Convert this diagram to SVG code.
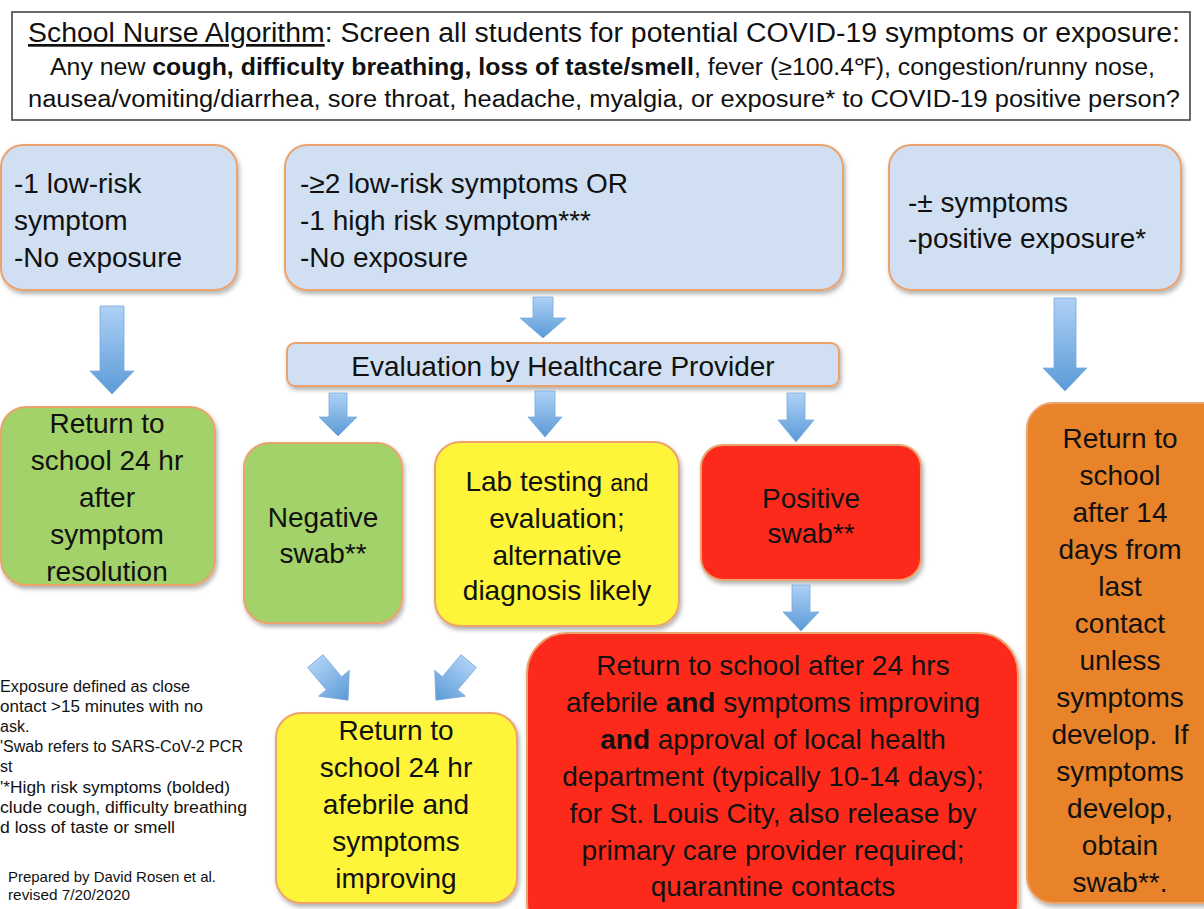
<svg xmlns="http://www.w3.org/2000/svg" width="1204" height="909" viewBox="0 0 1204 909">
<defs>
<linearGradient id="ag" x1="0" y1="0" x2="0" y2="1">
<stop offset="0" stop-color="#aed1f6"/>
<stop offset="1" stop-color="#5b9ad7"/>
</linearGradient>
<filter id="sh" x="-10%" y="-10%" width="125%" height="130%">
<feDropShadow dx="1.5" dy="3" stdDeviation="2" flood-color="#000" flood-opacity="0.3"/>
</filter>
</defs>
<style>
text{font-family:"Liberation Sans",Arial,sans-serif;fill:#111;}
.bx{stroke:#eba36e;stroke-width:2;filter:url(#sh);}
.blue{fill:#d0e0f2;}
.green{fill:#a3d26b;}
.yellow{fill:#fef53a;}
.red{fill:#fd2b1c;}
.orange{fill:#e8832a;}
.t28{font-size:28px;}
.c{text-anchor:middle;}
.fn{font-size:16px;}
.arr{fill:url(#ag);stroke:#79a9dc;stroke-width:0.8;}
</style>
<rect width="1204" height="909" fill="#fff"/>

<g id="header">
<rect x="12" y="12" width="1178" height="108" fill="#fff" stroke="#444" stroke-width="1.6"/>
<text x="28" y="42" font-size="27" textLength="1152" lengthAdjust="spacingAndGlyphs"><tspan text-decoration="underline">School Nurse Algorithm</tspan>: Screen all students for potential COVID-19 symptoms or exposure:</text>
<text x="50" y="75" font-size="23" textLength="1105" lengthAdjust="spacingAndGlyphs">Any new <tspan font-weight="bold">cough, difficulty breathing, loss of taste/smell</tspan>, fever (≥100.4℉), congestion/runny nose,</text>
<text x="28" y="107" font-size="23" textLength="1152" lengthAdjust="spacingAndGlyphs">nausea/vomiting/diarrhea, sore throat, headache, myalgia, or exposure* to COVID-19 positive person?</text>
</g>

<g id="low-risk">
<rect class="bx blue" x="1" y="145" width="236" height="145" rx="22"/>
<text class="t28" x="14" y="193">-1 low-risk</text>
<text class="t28" x="14" y="230">symptom</text>
<text class="t28" x="14" y="267">-No exposure</text>
</g>

<g id="high-risk">
<rect class="bx blue" x="285" y="145" width="558" height="145" rx="22"/>
<text class="t28" x="300" y="193">-≥2 low-risk symptoms OR</text>
<text class="t28" x="300" y="230">-1 high risk symptom***</text>
<text class="t28" x="300" y="267">-No exposure</text>
</g>

<g id="exposure">
<rect class="bx blue" x="889" y="145" width="292" height="145" rx="22"/>
<text class="t28" x="908" y="212">-± symptoms</text>
<text class="t28" x="908" y="248">-positive exposure*</text>
</g>

<g id="evaluation">
<rect class="bx blue" x="287" y="343" width="552" height="43" rx="8"/>
<text class="t28 c" x="563" y="376">Evaluation by Healthcare Provider</text>
</g>

<g id="return-resolution">
<rect class="bx green" x="1" y="407" width="214" height="178" rx="25"/>
<text class="t28 c" x="107" y="433">Return to</text>
<text class="t28 c" x="107" y="470">school 24 hr</text>
<text class="t28 c" x="107" y="507">after</text>
<text class="t28 c" x="107" y="544">symptom</text>
<text class="t28 c" x="107" y="581">resolution</text>
</g>

<g id="negative-swab">
<rect class="bx green" x="244" y="443" width="158" height="180" rx="25"/>
<text class="t28 c" x="323" y="527">Negative</text>
<text class="t28 c" x="323" y="563">swab**</text>
</g>

<g id="lab-testing">
<rect class="bx yellow" x="435" y="442" width="244" height="184" rx="25"/>
<text class="t28 c" x="557" y="491">Lab testing <tspan font-size="23">and</tspan></text>
<text class="t28 c" x="557" y="528">evaluation;</text>
<text class="t28 c" x="557" y="565">alternative</text>
<text class="t28 c" x="557" y="600">diagnosis likely</text>
</g>

<g id="positive-swab">
<rect class="bx red" x="701" y="445" width="220" height="135" rx="22"/>
<text class="t28 c" x="811" y="508">Positive</text>
<text class="t28 c" x="811" y="543">swab**</text>
</g>

<g id="return-quarantine">
<rect class="bx red" x="527" y="633" width="491" height="310" rx="40"/>
<text class="t28 c" x="773" y="675">Return to school after 24 hrs</text>
<text class="t28 c" x="773" y="712">afebrile <tspan font-weight="bold">and</tspan> symptoms improving</text>
<text class="t28 c" x="773" y="749"><tspan font-weight="bold">and</tspan> approval of local health</text>
<text class="t28 c" x="773" y="786">department (typically 10-14 days);</text>
<text class="t28 c" x="773" y="823">for St. Louis City, also release by</text>
<text class="t28 c" x="773" y="860">primary care provider required;</text>
<text class="t28 c" x="773" y="896">quarantine contacts</text>
</g>

<g id="return-14-days">
<rect class="bx orange" x="1027" y="403" width="210" height="500" rx="26"/>
<text class="t28 c" x="1120" y="448">Return to</text>
<text class="t28 c" x="1120" y="485">school</text>
<text class="t28 c" x="1120" y="522">after 14</text>
<text class="t28 c" x="1120" y="559">days from</text>
<text class="t28 c" x="1120" y="596">last</text>
<text class="t28 c" x="1120" y="633">contact</text>
<text class="t28 c" x="1120" y="670">unless</text>
<text class="t28 c" x="1120" y="707">symptoms</text>
<text class="t28 c" x="1120" y="744" xml:space="preserve">develop.  If</text>
<text class="t28 c" x="1120" y="781">symptoms</text>
<text class="t28 c" x="1120" y="818">develop,</text>
<text class="t28 c" x="1120" y="855">obtain</text>
<text class="t28 c" x="1120" y="892">swab**.</text>
</g>

<g id="return-improving">
<rect class="bx yellow" x="276" y="713" width="241" height="190" rx="25"/>
<text class="t28 c" x="396" y="740">Return to</text>
<text class="t28 c" x="396" y="777">school 24 hr</text>
<text class="t28 c" x="396" y="814">afebrile and</text>
<text class="t28 c" x="396" y="851">symptoms</text>
<text class="t28 c" x="396" y="888">improving</text>
</g>

<g id="connectors">
<path class="arr" d="M100,306 H124 V371 H134 L112,394 L90,371 H100 Z"/>
<path class="arr" d="M533,297 H553 V318 H566 L543,338 L520,318 H533 Z"/>
<path class="arr" d="M329,393 H347 V417 H357 L338,436 L319,417 H329 Z"/>
<path class="arr" d="M535,391 H555 V417 H562 L545,437 L528,417 H535 Z"/>
<path class="arr" d="M787,393 H805 V420 H814 L796,442 L778,420 H787 Z"/>
<path class="arr" d="M1054,298 H1076 V368 H1087 L1065,391 L1043,368 H1054 Z"/>
<path class="arr" d="M792,585 H810 V612 H819 L801,631 L783,612 H792 Z"/>
<path class="arr" transform="translate(332,681) rotate(-40)" d="M-10,-26 H10 V3 H20 L0,25 L-20,3 H-10 Z"/>
<path class="arr" transform="translate(452,681) rotate(40)" d="M-10,-26 H10 V3 H20 L0,25 L-20,3 H-10 Z"/>
</g>

<g id="footnotes">
<text class="fn" x="0" y="692" textLength="190" lengthAdjust="spacingAndGlyphs">Exposure defined as close</text>
<text class="fn" x="0" y="712" textLength="203" lengthAdjust="spacingAndGlyphs">ontact &gt;15 minutes with no</text>
<text class="fn" x="0" y="732">ask.</text>
<text class="fn" x="0" y="752" textLength="243" lengthAdjust="spacingAndGlyphs">'Swab refers to SARS-CoV-2 PCR</text>
<text class="fn" x="0" y="772">st</text>
<text class="fn" x="0" y="793" textLength="230" lengthAdjust="spacingAndGlyphs">'*High risk symptoms (bolded)</text>
<text class="fn" x="0" y="813" textLength="247" lengthAdjust="spacingAndGlyphs">clude cough, difficulty breathing</text>
<text class="fn" x="0" y="833" textLength="175" lengthAdjust="spacingAndGlyphs">d loss of taste or smell</text>
<text x="8" y="882" font-size="15" textLength="208" lengthAdjust="spacingAndGlyphs">Prepared by David Rosen et al.</text>
<text x="8" y="900" font-size="15" textLength="122" lengthAdjust="spacingAndGlyphs">revised 7/20/2020</text>
</g>
</svg>
